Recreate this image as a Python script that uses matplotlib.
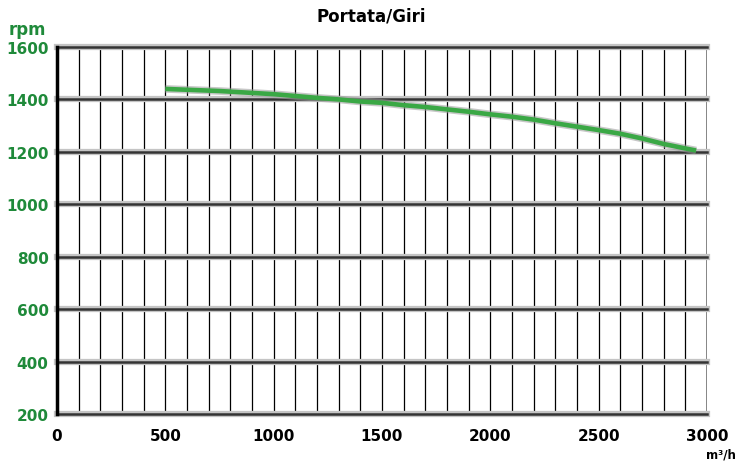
import numpy as np
import matplotlib.pyplot as plt

# flow (m3/h) vs speed (rpm)
portata = [500, 750, 1000, 1100, 1200, 1300, 1400, 1500, 1600, 1700, 1800,
           1900, 2000, 2100, 2200, 2300, 2400, 2500, 2600, 2700, 2800, 2900, 2950]
giri = [1440, 1432, 1420, 1413, 1406, 1400, 1392, 1387, 1378, 1371, 1362,
        1353, 1343, 1334, 1323, 1309, 1296, 1283, 1269, 1251, 1230, 1213, 1205]

x_ticks = [0, 500, 1000, 1500, 2000, 2500, 3000]
y_ticks = [200, 400, 600, 800, 1000, 1200, 1400, 1600]

green = '#1f8a3a'

fig = plt.figure(figsize=(7.42, 4.64), dpi=100)
ax = fig.add_axes([0.0768, 0.1056, 0.876, 0.791])
ax.set_xlim(0, 3000)
ax.set_ylim(200, 1600)

# vertical grid every 100
for xv in np.arange(100, 3001, 100):
    ax.axvline(xv, color='black', lw=0.9, zorder=1)
ax.axvline(3000, color='#777777', lw=1.2, zorder=1)
# horizontal grid: thick with grey halo
for yv in y_ticks:
    ax.axhline(yv, color='#c4c4c4', lw=4.5, zorder=1.5, clip_on=False)
    ax.axhline(yv, color='#333333', lw=1.8, zorder=2, clip_on=False)

# curve with grey shadow
ax.plot(portata, giri, color='#9a9a9a', lw=5.5, alpha=0.55, zorder=3,
        solid_capstyle='butt')
ax.plot(portata, giri, color='#3aa845', lw=3.3, zorder=4, solid_capstyle='butt')

for s in ['top', 'right', 'bottom']:
    ax.spines[s].set_visible(False)
ax.spines['left'].set_linewidth(2.5)
ax.spines['left'].set_color('black')

ax.set_xticks(x_ticks)
ax.set_yticks(y_ticks)
ax.tick_params(axis='both', length=0)
ax.tick_params(axis='x', pad=10)
ax.tick_params(axis='y', pad=6)
ax.set_xticklabels([str(v) for v in x_ticks], fontsize=11, fontweight='bold',
                   color='black')
ax.set_yticklabels([str(v) for v in y_ticks], fontsize=11, fontweight='bold',
                   color=green)

fig.text(0.5, 0.965, 'Portata/Giri', ha='center', va='center',
         fontsize=12, fontweight='bold')
fig.text(0.012, 0.935, 'rpm', ha='left', va='center', fontsize=12,
         fontweight='bold', color=green)
fig.text(0.992, 0.005, 'm³/h', ha='right', va='bottom', fontsize=8.5,
         fontweight='bold')

fig.savefig('out.png', dpi=100)
